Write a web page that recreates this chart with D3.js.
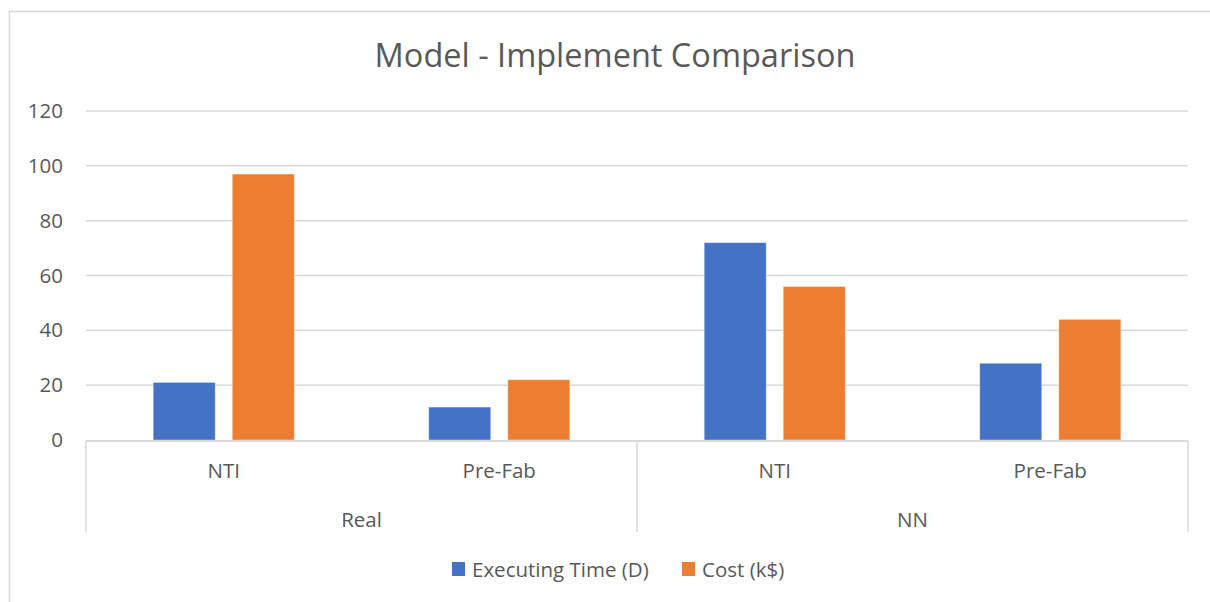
<!DOCTYPE html>
<html><head><meta charset="utf-8">
<script src="https://cdn.jsdelivr.net/npm/d3@7"></script>
<style>body{margin:0;background:#fff}text{font-family:"Open Sans",sans-serif;fill:#595959}</style>
</head><body><svg id="c" width="1210" height="602"></svg>
<script>
const groups = ["Real", "NN"];
const categories = ["NTI", "Pre-Fab"];
const seriesNames = ["Executing Time (D)", "Cost (k$)"];
const executingTime = [21, 12, 72, 28];
const cost = [97, 22, 56, 44];
const yTicks = [0, 20, 40, 60, 80, 100, 120];
const colors = ["#4472C4", "#ED7D31"];

(function(){
const svg = d3.select("#c");
svg.append("rect").attr("x",9.5).attr("y",11.5).attr("width",1220).attr("height",620)
  .attr("fill","#fff").attr("stroke","#d9d9d9").attr("stroke-width",1.5);

const pL = 86, pR = 1188, pT = 111, pB = 440;
const fs = "20.5px";
const keys = [];
groups.forEach(g => categories.forEach(c => keys.push(g + "|" + c)));
const x = d3.scaleBand().domain(keys).range([pL, pR]).paddingInner(0).paddingOuter(0);
const y = d3.scaleLinear().domain([0, 120]).range([pB, pT]);
const xs = d3.scaleBand().domain([0,1]).range([0, x.bandwidth()]).paddingInner(0.215).paddingOuter(0.85);

svg.append("text").attr("x", 615).attr("y", 67).attr("text-anchor","middle")
  .style("font-size","32.5px").text("Model - Implement Comparison");

svg.append("g").selectAll("line").data(yTicks.filter(d=>d>0)).join("line")
  .attr("x1", pL).attr("x2", pR).attr("y1", d=>y(d)).attr("y2", d=>y(d))
  .attr("stroke","#d9d9d9").attr("stroke-width",1.5);

const yAxis = svg.append("g").attr("transform",`translate(${pL},0)`)
  .call(d3.axisLeft(y).tickValues(yTicks).tickSize(0).tickPadding(23));
yAxis.select(".domain").remove();
yAxis.selectAll("text").style("font-size",fs).attr("fill","#595959").attr("font-family",null);

const data = keys.map((k,i)=>({k, v:[executingTime[i], cost[i]]}));
data.forEach(d => {
  d.v.forEach((v, s) => {
    svg.append("rect").attr("x", x(d.k) + xs(s)).attr("width", xs.bandwidth())
      .attr("y", y(v)).attr("height", y(0) - y(v)).attr("fill", colors[s])
      .attr("stroke", "#fff").attr("stroke-opacity",0.4).attr("stroke-width",1);
  });
});

svg.append("line").attr("x1",pL).attr("x2",pR).attr("y1",pB+1).attr("y2",pB+1)
  .attr("stroke","#d9d9d9").attr("stroke-width",2);
const gx = [pL, pL + (pR-pL)/2, pR];
svg.append("g").selectAll("line").data(gx).join("line")
  .attr("x1",d=>d).attr("x2",d=>d).attr("y1",pB+1).attr("y2",532)
  .attr("stroke","#d9d9d9").attr("stroke-width",1.5);

svg.append("g").selectAll("text").data(keys).join("text")
  .attr("x", d=>x(d)+x.bandwidth()/2).attr("y", 478).attr("text-anchor","middle")
  .style("font-size",fs).text(d=>d.split("|")[1]);
svg.append("g").selectAll("text").data(groups).join("text")
  .attr("x", (d,i)=>gx[i] + (gx[i+1]-gx[i])/2).attr("y", 527).attr("text-anchor","middle")
  .style("font-size",fs).text(d=>d);

const legX = [452, 682];
seriesNames.forEach((n,i)=>{
  svg.append("rect").attr("x",legX[i]).attr("y",562).attr("width",13).attr("height",14).attr("fill",colors[i]);
  svg.append("text").attr("x",legX[i]+20).attr("y",576.5).style("font-size",fs).text(n);
});
})();
</script></body></html>
